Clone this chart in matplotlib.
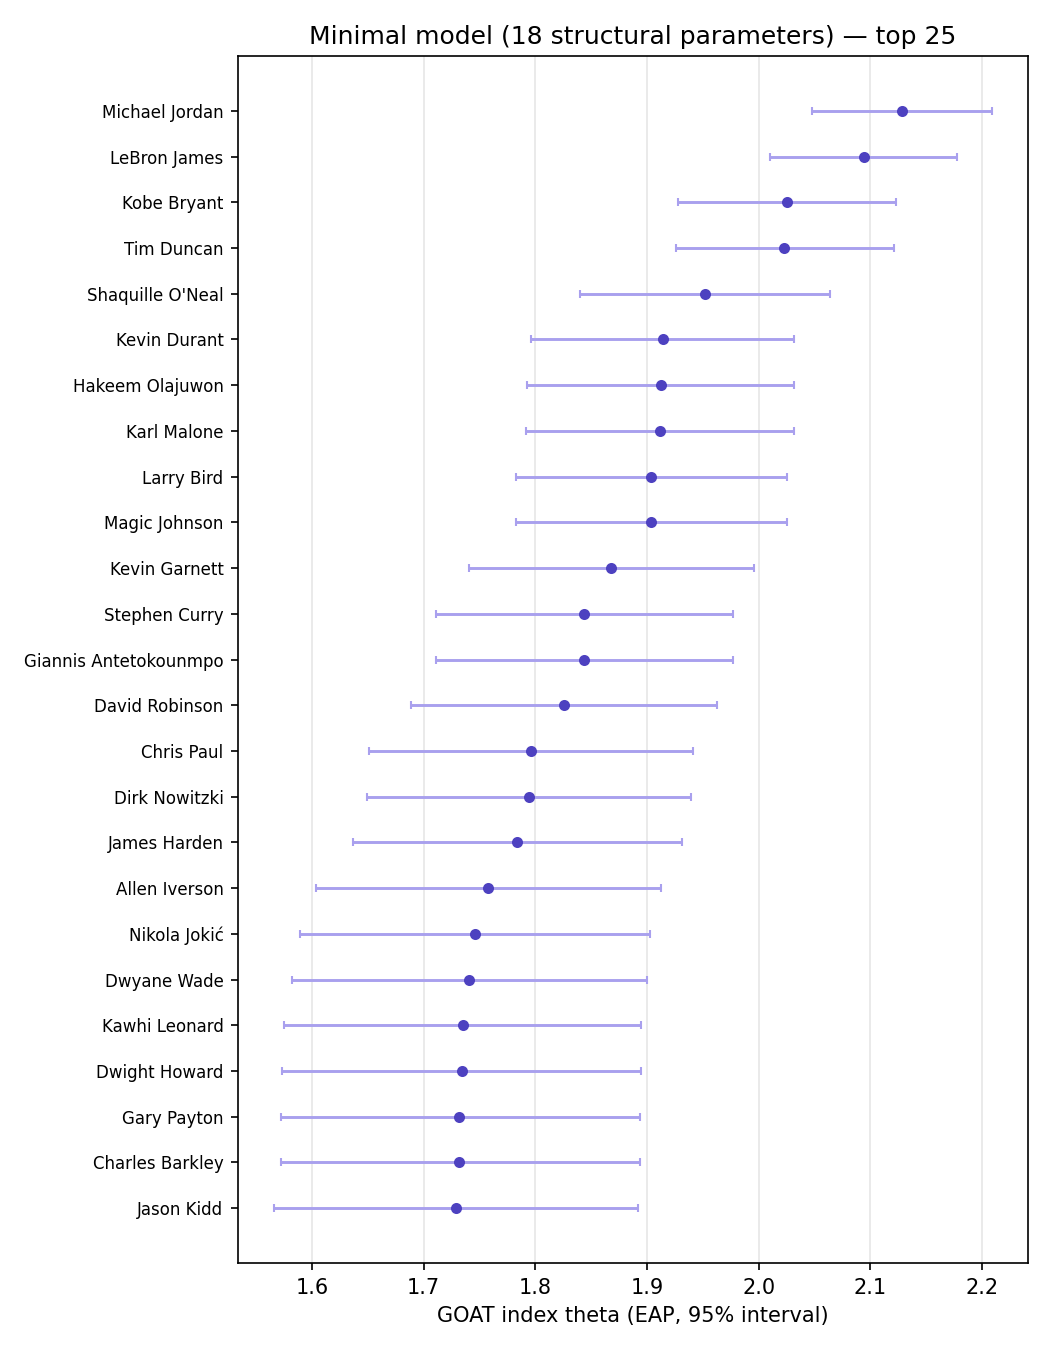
import matplotlib
matplotlib.use("Agg")
import matplotlib.pyplot as plt
import numpy as np

players = ["Michael Jordan", "LeBron James", "Kobe Bryant", "Tim Duncan", "Shaquille O'Neal",
           "Kevin Durant", "Hakeem Olajuwon", "Karl Malone", "Larry Bird", "Magic Johnson",
           "Kevin Garnett", "Stephen Curry", "Giannis Antetokounmpo", "David Robinson", "Chris Paul",
           "Dirk Nowitzki", "James Harden", "Allen Iverson", "Nikola Jokić", "Dwyane Wade",
           "Kawhi Leonard", "Dwight Howard", "Gary Payton", "Charles Barkley", "Jason Kidd"]
theta = [2.128, 2.094, 2.025, 2.023, 1.952, 1.914, 1.913, 1.912, 1.904, 1.904,
         1.868, 1.844, 1.844, 1.826, 1.796, 1.794, 1.784, 1.758, 1.746, 1.741,
         1.735, 1.734, 1.732, 1.732, 1.729]
lower = [2.048, 2.010, 1.928, 1.926, 1.840, 1.796, 1.793, 1.792, 1.783, 1.783,
         1.741, 1.711, 1.711, 1.689, 1.651, 1.649, 1.637, 1.604, 1.589, 1.582,
         1.575, 1.573, 1.572, 1.572, 1.566]
upper = [2.209, 2.178, 2.123, 2.121, 2.064, 2.032, 2.032, 2.032, 2.025, 2.025,
         1.996, 1.977, 1.977, 1.963, 1.941, 1.939, 1.931, 1.913, 1.903, 1.900,
         1.895, 1.895, 1.894, 1.894, 1.892]

theta = np.array(theta); lower = np.array(lower); upper = np.array(upper)
y = np.arange(len(players))

fig, ax = plt.subplots(figsize=(7, 9), dpi=150)
fig.subplots_adjust(left=0.2267, right=0.979, top=0.9585, bottom=0.0644)
ax.errorbar(theta, y, xerr=[theta - lower, upper - theta], fmt='none',
            ecolor='#a9a0ee', elinewidth=1.4, capsize=2, capthick=1.0, zorder=2)
ax.plot(theta, y, 'o', color='#4d41c0', markersize=4.3, zorder=3)
ax.set_yticks(y)
ax.set_yticklabels(players, fontsize=8)
ax.invert_yaxis()
ax.tick_params(axis='x', labelsize=10)
ax.grid(axis='x', color='#e6e6e6', linewidth=0.8)
ax.set_axisbelow(True)
ax.set_xlabel("GOAT index theta (EAP, 95% interval)", fontsize=10)
ax.set_title("Minimal model (18 structural parameters) — top 25", fontsize=12)
fig.savefig("out.png", dpi=150)
